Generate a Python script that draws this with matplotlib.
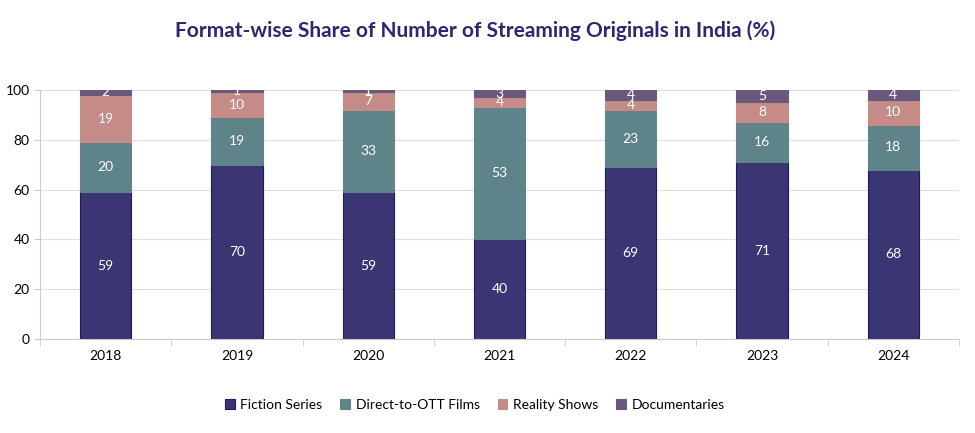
import matplotlib
matplotlib.use("Agg")
import matplotlib.pyplot as plt
import numpy as np

plt.rcParams["font.family"] = ["Lato", "DejaVu Sans"]

years = ["2018", "2019", "2020", "2021", "2022", "2023", "2024"]
fiction = [59, 70, 59, 40, 69, 71, 68]
direct_ott = [20, 19, 33, 53, 23, 16, 18]
reality = [19, 10, 7, 4, 4, 8, 10]
docs = [2, 1, 1, 3, 4, 5, 4]

series = [
    ("Fiction Series", fiction, "#3b3574", "#1f1a66"),
    ("Direct-to-OTT Films", direct_ott, "#5e8489", "#5e8489"),
    ("Reality Shows", reality, "#c48b87", "#c48b87"),
    ("Documentaries", docs, "#6b587d", "#6b587d"),
]

fig = plt.figure(figsize=(9.75, 4.33), dpi=100)
ax = fig.add_axes([40 / 975, 1 - 339 / 433, 919 / 975, 249 / 433])

x = np.arange(len(years))
bottom = np.zeros(len(years))
for name, vals, color, edge in series:
    vals = np.array(vals, dtype=float)
    ax.bar(x, vals, 0.39, bottom=bottom, color=color, edgecolor=edge,
           linewidth=0.8, label=name, zorder=2)
    for xi, b, v in zip(x, bottom, vals):
        ax.text(xi, b + v / 2, f"{int(v)}", ha="center", va="center",
                color="white", fontsize=10, zorder=3)
    bottom += vals

ax.set_xlim(-0.5, len(years) - 0.5)
ax.set_ylim(0, 100)
ax.set_yticks(range(0, 101, 20))
ax.yaxis.grid(True, color="#dde0e3", lw=0.8, zorder=0)
ax.set_axisbelow(True)
ax.set_xticks(x)
ax.set_xticklabels(years)
ax.set_xticks(np.arange(-0.5, len(years), 1), minor=True)
ax.tick_params(axis="x", which="major", length=0, pad=8)
ax.tick_params(axis="x", which="minor", length=5, color="#c8ccd0")
ax.tick_params(axis="y", length=4, color="#c8ccd0", labelsize=10)
ax.tick_params(axis="x", labelsize=10)
for s in ("top", "right"):
    ax.spines[s].set_visible(False)
for s in ("left", "bottom"):
    ax.spines[s].set_color("#c8ccd0")

fig.text(0.487, 0.93, "Format-wise Share of Number of Streaming Originals in India (%)",
         ha="center", va="center", fontsize=15, fontweight="bold", color="#2c2870")

fig.legend(loc="center", bbox_to_anchor=(0.487, 0.065), ncol=4, frameon=False,
           fontsize=10, handlelength=0.7, handleheight=0.7, columnspacing=1.3,
           handletextpad=0.4)

fig.savefig("out.png", dpi=100)
